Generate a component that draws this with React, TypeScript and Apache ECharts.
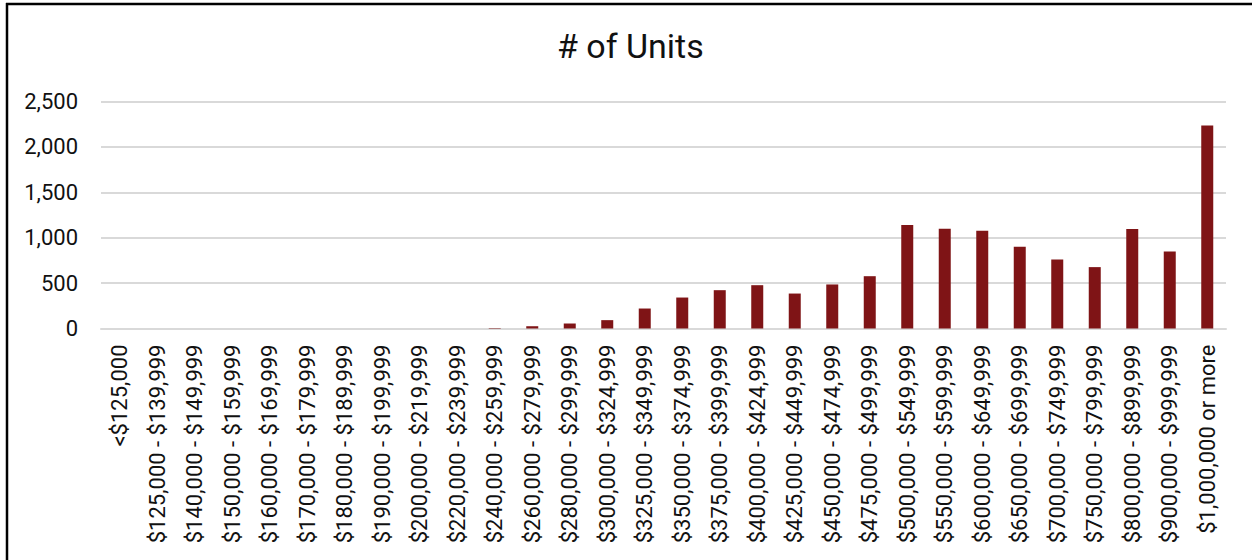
import React, { useEffect, useRef } from "react";
import * as echarts from "echarts";

const chartTitle = "# of Units";

const categories = [
  "<$125,000",
  "$125,000 - $139,999",
  "$140,000 - $149,999",
  "$150,000 - $159,999",
  "$160,000 - $169,999",
  "$170,000 - $179,999",
  "$180,000 - $189,999",
  "$190,000 - $199,999",
  "$200,000 - $219,999",
  "$220,000 - $239,999",
  "$240,000 - $259,999",
  "$260,000 - $279,999",
  "$280,000 - $299,999",
  "$300,000 - $324,999",
  "$325,000 - $349,999",
  "$350,000 - $374,999",
  "$375,000 - $399,999",
  "$400,000 - $424,999",
  "$425,000 - $449,999",
  "$450,000 - $474,999",
  "$475,000 - $499,999",
  "$500,000 - $549,999",
  "$550,000 - $599,999",
  "$600,000 - $649,999",
  "$650,000 - $699,999",
  "$700,000 - $749,999",
  "$750,000 - $799,999",
  "$800,000 - $899,999",
  "$900,000 - $999,999",
  "$1,000,000 or more",
];

const units = [
  0, 0, 0, 0, 0, 0, 0, 0, 0, 0, 5, 25, 55, 92, 220, 341, 422, 477, 385, 485,
  576, 1139, 1098, 1076, 900, 760, 676, 1095, 848, 2236,
];

const yMin = 0;
const yMax = 2500;
const yStep = 500;

const FONT = "Roboto";

export default function App() {
  const ref = useRef<HTMLDivElement>(null);

  useEffect(() => {
    if (!ref.current) return;
    const chart = echarts.init(ref.current, null, { renderer: "svg" });
    chart.setOption({
      animation: false,
      backgroundColor: "#ffffff",
      title: {
        text: chartTitle,
        left: 552,
        top: 24,
        textStyle: {
          fontFamily: FONT,
          fontSize: 34,
          fontWeight: "normal",
          color: "#111111",
        },
      },
      graphic: [
        {
          type: "line",
          shape: { x1: 7, y1: 3, x2: 7, y2: 560 },
          style: { stroke: "#000000", lineWidth: 2.5 },
          silent: true,
        },
        {
          type: "line",
          shape: { x1: 6, y1: 4, x2: 1252, y2: 4 },
          style: { stroke: "#000000", lineWidth: 2.5 },
          silent: true,
        },
        {
          type: "rect",
          shape: { x: 1238, y: 7, width: 20, height: 560 },
          style: { fill: "#ffffff" },
          z: 100,
          silent: true,
        },
      ],
      grid: { left: 101, right: 26, top: 101.5, bottom: 231.5 },
      xAxis: {
        type: "category",
        data: categories,
        axisLine: { show: true, lineStyle: { color: "#d9d9d9", width: 2 } },
        axisTick: { show: false },
        axisLabel: {
          rotate: 90,
          interval: 0,
          margin: 16,
          fontFamily: FONT,
          fontSize: 22,
          color: "#111111",
        },
      },
      yAxis: {
        type: "value",
        min: yMin,
        max: yMax,
        interval: yStep,
        axisLine: { show: false },
        axisTick: { show: false },
        splitLine: { lineStyle: { color: "#d9d9d9", width: 2 } },
        axisLabel: {
          margin: 23,
          fontFamily: FONT,
          fontSize: 22,
          color: "#111111",
          formatter: (v: number) => v.toLocaleString("en-US"),
        },
      },
      series: [
        {
          type: "bar",
          data: units,
          barWidth: 12,
          itemStyle: { color: "#7f1416" },
        },
      ],
    });
    return () => chart.dispose();
  }, []);

  return (
    <div
      ref={ref}
      style={{ position: "fixed", left: 0, top: 0, width: 1252, height: 560 }}
    />
  );
}
